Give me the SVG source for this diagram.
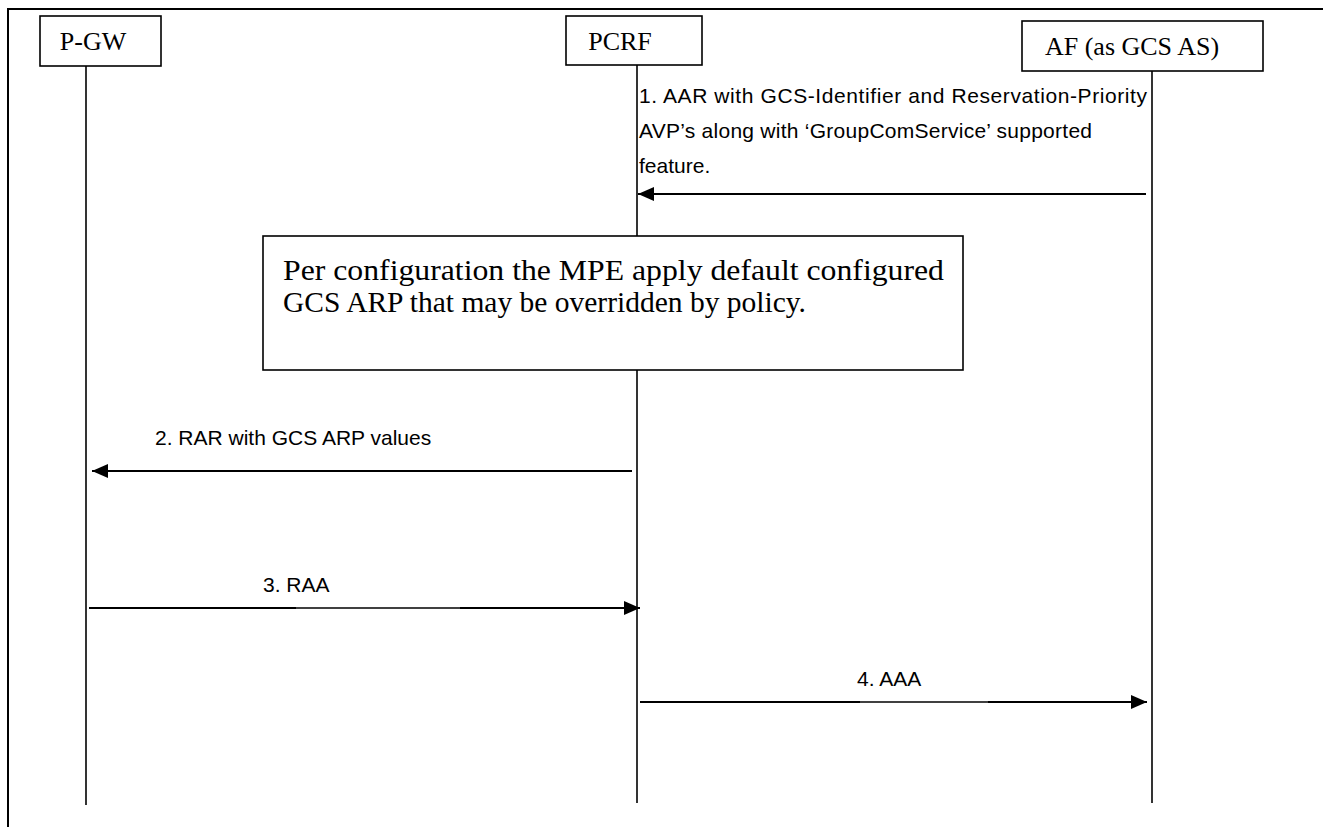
<svg xmlns="http://www.w3.org/2000/svg" width="1323" height="827" viewBox="0 0 1323 827">
  <style>
    .frame { fill: none; stroke: #000; stroke-width: 2; }
    .box { fill: #fff; stroke: #000; stroke-width: 1.6; }
    .life { stroke: #000; stroke-width: 1.6; fill: none; }
    .msg { stroke: #000; stroke-width: 1.8; fill: none; }
    .msg-thin { stroke: #000; stroke-width: 1.3; fill: none; }
    .ent { font-family: "Liberation Serif", "Times New Roman", serif; font-size: 26px; fill: #000; }
    .lbl { font-family: "Liberation Sans", Arial, sans-serif; font-size: 21px; fill: #000; }
    .note { font-family: "Liberation Serif", "Times New Roman", serif; font-size: 30px; fill: #000; }
  </style>
  <defs>
    <marker id="head" viewBox="0 0 16 14" refX="16" refY="7" markerWidth="16" markerHeight="14" markerUnits="userSpaceOnUse" orient="auto">
      <path d="M0,0 L16,7 L0,14 Z" fill="#000"/>
    </marker>
  </defs>

  <rect width="1323" height="827" fill="#fff"/>
  <!-- outer frame, running off the right and bottom edges -->
  <rect class="frame" x="8" y="9" width="1340" height="840"/>

  <!-- lifelines -->
  <g id="lifelines">
    <line class="life" x1="86" y1="66" x2="86" y2="805"/>
    <line class="life" x1="637" y1="65" x2="637" y2="803"/>
    <line class="life" x1="1152" y1="71" x2="1152" y2="803"/>
  </g>

  <g id="pgw">
    <rect class="box" x="40" y="16" width="121" height="50"/>
    <text class="ent" x="93" y="50" text-anchor="middle">P-GW</text>
  </g>
  <g id="pcrf">
    <rect class="box" x="566" y="16" width="136" height="49"/>
    <text class="ent" x="620" y="50" text-anchor="middle">PCRF</text>
  </g>
  <g id="af">
    <rect class="box" x="1022" y="21" width="241" height="50"/>
    <text class="ent" x="1132" y="55" text-anchor="middle">AF (as GCS AS)</text>
  </g>

  <g id="policy-note">
    <rect class="box" x="263" y="236" width="700" height="134"/>
    <text class="note" x="283" y="280" textLength="661" lengthAdjust="spacingAndGlyphs">Per configuration the MPE apply default configured</text>
    <text class="note" x="283" y="312" textLength="523" lengthAdjust="spacingAndGlyphs">GCS ARP that may be overridden by policy.</text>
  </g>

  <g id="connectors">
    <!-- 1. AAR: AF to PCRF -->
    <line class="msg" x1="1146" y1="194" x2="638" y2="194" marker-end="url(#head)"/>
    <!-- 2. RAR: PCRF to P-GW -->
    <line class="msg" x1="632" y1="471" x2="92" y2="471" marker-end="url(#head)"/>
    <!-- 3. RAA: P-GW to PCRF -->
    <line class="msg" x1="89" y1="608" x2="296" y2="608"/>
    <line class="msg-thin" x1="296" y1="608" x2="460" y2="608"/>
    <line class="msg" x1="460" y1="608" x2="640" y2="608" marker-end="url(#head)"/>
    <!-- 4. AAA: PCRF to AF -->
    <line class="msg" x1="640" y1="702" x2="860" y2="702"/>
    <line class="msg-thin" x1="860" y1="702" x2="988" y2="702"/>
    <line class="msg" x1="988" y1="702" x2="1147" y2="702" marker-end="url(#head)"/>
  </g>

  <g id="labels">
    <text class="lbl" x="639" y="103" textLength="508" lengthAdjust="spacing">1. AAR with GCS-Identifier and Reservation-Priority</text>
    <text class="lbl" x="639" y="138" textLength="453" lengthAdjust="spacing">AVP’s along with ‘GroupComService’ supported</text>
    <text class="lbl" x="639" y="173">feature.</text>
    <text class="lbl" x="155" y="445">2. RAR with GCS ARP values</text>
    <text class="lbl" x="263" y="592">3. RAA</text>
    <text class="lbl" x="857" y="686">4. AAA</text>
  </g>
</svg>
